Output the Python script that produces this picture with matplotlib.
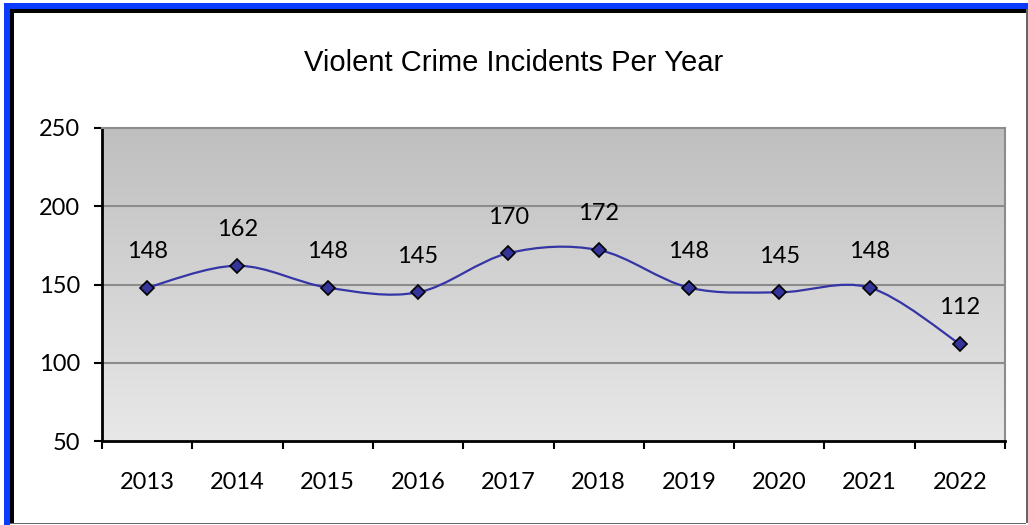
import numpy as np
import matplotlib.pyplot as plt
from matplotlib.path import Path
from matplotlib.patches import PathPatch, Rectangle

years = ['2013', '2014', '2015', '2016', '2017', '2018', '2019', '2020', '2021', '2022']
incidents = [148, 162, 148, 145, 170, 172, 148, 145, 148, 112]
y_ticks = [50, 100, 150, 200, 250]

W, H = 1028, 525
fig = plt.figure(figsize=(W / 100, H / 100), dpi=100)
fig.patch.set_facecolor('white')

# frame: blue + black on top/left, thin gray on right/bottom
def px_rect(x0, y0, w, h, color):
    fig.patches.append(Rectangle((x0 / W, 1 - (y0 + h) / H), w / W, h / H,
                                 transform=fig.transFigure, color=color, lw=0, zorder=0))

px_rect(4, 3, W - 4, 6, '#0a3cff')
px_rect(4, 3, 6, H - 3, '#0a3cff')
px_rect(10, 9, W - 12, 4, 'black')
px_rect(10, 9, 4, H - 11, 'black')
px_rect(W - 2, 9, 1.5, H - 11, '#666666')
px_rect(10, H - 2.5, W - 12, 1.5, '#666666')

ax = fig.add_axes([102 / W, 1 - 441 / H, (1005 - 102) / W, (441 - 128) / H])
x = np.arange(len(years))
ax.set_xlim(-0.5, len(years) - 0.5)
ax.set_ylim(50, 250)

# background gradient, darker at top
grad = np.linspace(0, 1, 256).reshape(-1, 1)
ax.imshow(grad, extent=(-0.5, len(years) - 0.5, 50, 250), aspect='auto',
          cmap=plt.matplotlib.colors.LinearSegmentedColormap.from_list('g', ['#e8e8e8', '#bfbfbf']),
          origin='lower', zorder=0)

for v in y_ticks[1:-1]:
    ax.axhline(v, color='#8c8c8c', lw=1.5, zorder=1)

# smoothed line (bezier through the data points)
pts = np.column_stack([x, incidents]).astype(float)
verts = [tuple(pts[0])]
codes = [Path.MOVETO]
for i in range(len(pts) - 1):
    p0 = pts[i - 1] if i > 0 else pts[i]
    p1, p2 = pts[i], pts[i + 1]
    p3 = pts[i + 2] if i + 2 < len(pts) else pts[i + 1]
    c1 = p1 + (p2 - p0) / 6
    c2 = p2 - (p3 - p1) / 6
    verts += [tuple(c1), tuple(c2), tuple(p2)]
    codes += [Path.CURVE4] * 3
ax.add_patch(PathPatch(Path(verts, codes), fill=False, edgecolor='#3535a5', lw=1.6, zorder=2))
ax.plot(x, incidents, ls='none', marker='D', ms=7.5, mfc='#34349a', mec='black', mew=1.2, zorder=3)

for xi, v in zip(x, incidents):
    ax.annotate(str(v), (xi, v), xytext=(0, 26), textcoords='offset points',
                ha='center', va='center', fontsize=17, family='Lato')

ax.set_yticks(y_ticks)
ax.set_xticks(x)
ax.set_xticklabels(years)
ax.set_xticks(np.arange(-0.5, len(years)), minor=True)
ax.tick_params(axis='x', which='major', length=0, pad=22, labelsize=17)
ax.tick_params(axis='x', which='minor', length=6, width=1.5, direction='out')
ax.tick_params(axis='y', length=6, width=1.5, direction='out', pad=10, labelsize=17)
for lab in ax.get_xticklabels() + ax.get_yticklabels():
    lab.set_family('Lato')

ax.spines['left'].set_linewidth(2)
ax.spines['bottom'].set_linewidth(2)
ax.spines['top'].set_color('#8c8c8c')
ax.spines['right'].set_color('#8c8c8c')
ax.spines['top'].set_linewidth(1.5)
ax.spines['right'].set_linewidth(1.5)

fig.text(514 / W, 1 - 63 / H, 'Violent Crime Incidents Per Year', ha='center', va='center',
         fontsize=21, family='Liberation Sans')

fig.savefig('out.png', dpi=100)
